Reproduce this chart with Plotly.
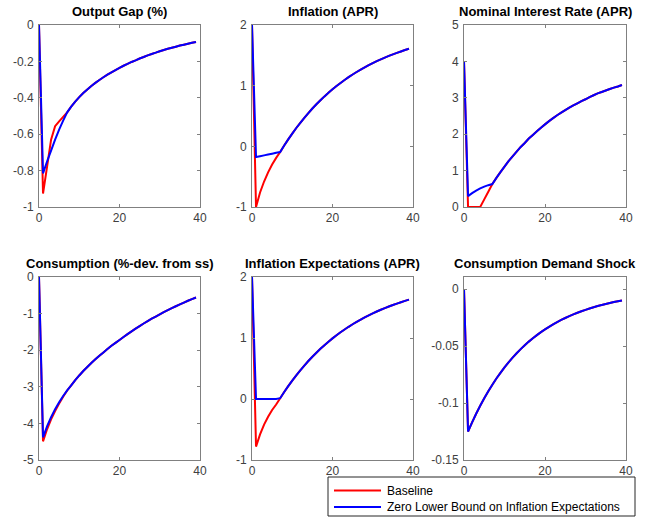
import plotly.graph_objects as go

# ---------------- data (t = 0..39) ----------------
periods = list(range(40))

gap_tail = [-0.449, -0.421, -0.396, -0.374, -0.354, -0.335, -0.318, -0.302, -0.287, -0.273,
            -0.260, -0.248, -0.236, -0.224, -0.214, -0.203, -0.194, -0.184, -0.176, -0.167,
            -0.159, -0.152, -0.144, -0.137, -0.131, -0.125, -0.119, -0.113, -0.108, -0.103,
            -0.098, -0.093]
gap_base = [0, -0.926, -0.78, -0.63, -0.556, -0.53, -0.505, -0.48] + gap_tail
gap_zlb = [0, -0.815, -0.75, -0.69, -0.63, -0.575, -0.525, -0.48] + gap_tail

infl_tail = [0.013, 0.114, 0.210, 0.302, 0.388, 0.470, 0.548, 0.623, 0.693, 0.759,
             0.823, 0.883, 0.940, 0.994, 1.045, 1.094, 1.140, 1.184, 1.225, 1.265,
             1.302, 1.338, 1.372, 1.404, 1.434, 1.463, 1.490, 1.516, 1.541, 1.564,
             1.587, 1.608]
infl_base = [2.0, -1.0, -0.76, -0.58, -0.43, -0.30, -0.19, -0.094] + infl_tail
infl_zlb = [2.0, -0.177, -0.163, -0.149, -0.135, -0.121, -0.107, -0.094] + infl_tail

rate_tail = [0.80, 0.96, 1.11, 1.26, 1.39, 1.52, 1.65, 1.76, 1.88, 1.98,
             2.08, 2.18, 2.27, 2.36, 2.44, 2.52, 2.59, 2.66, 2.73, 2.79,
             2.85, 2.91, 2.96, 3.02, 3.07, 3.12, 3.16, 3.20, 3.24, 3.28,
             3.31, 3.35]
rate_base = [4.0, 0.0, 0.0, 0.0, 0.0, 0.21, 0.42, 0.63] + rate_tail
rate_zlb = [4.0, 0.30, 0.38, 0.45, 0.51, 0.56, 0.60, 0.63] + rate_tail

cons_tail = [-2.96, -2.82, -2.69, -2.57, -2.46, -2.35, -2.25, -2.15, -2.06, -1.97,
             -1.88, -1.80, -1.72, -1.64, -1.56, -1.485, -1.41, -1.34, -1.27, -1.205,
             -1.14, -1.08, -1.02, -0.96, -0.905, -0.85, -0.80, -0.75, -0.70, -0.65,
             -0.605, -0.56]
cons_base = [0, -4.49, -4.16, -3.89, -3.66, -3.46, -3.27, -3.10] + cons_tail
cons_zlb = [0, -4.38, -4.08, -3.83, -3.61, -3.42, -3.25, -3.10] + cons_tail

expi_tail = [0.114, 0.210, 0.302, 0.388, 0.470, 0.548, 0.623, 0.693, 0.759, 0.823,
             0.883, 0.940, 0.994, 1.045, 1.094, 1.140, 1.184, 1.225, 1.265, 1.302,
             1.338, 1.372, 1.404, 1.434, 1.463, 1.490, 1.516, 1.541, 1.564, 1.587,
             1.608, 1.629]
expi_base = [2.0, -0.78, -0.58, -0.42, -0.29, -0.18, -0.09, 0.013] + expi_tail
expi_zlb = [2.0, 0.0, 0.0, 0.0, 0.0, 0.0, 0.0, 0.013] + expi_tail

shock_base = [0, -0.125, -0.1170, -0.1094, -0.1024, -0.0958, -0.0897, -0.0839, -0.0785, -0.0735,
              -0.0687, -0.0643, -0.0602, -0.0563, -0.0527, -0.0493, -0.0461, -0.0432, -0.0404, -0.0378,
              -0.0354, -0.0331, -0.0310, -0.0290, -0.0271, -0.0254, -0.0237, -0.0222, -0.0208, -0.0195,
              -0.0182, -0.0170, -0.0159, -0.0149, -0.0140, -0.0131, -0.0122, -0.0114, -0.0107, -0.0100]
shock_zlb = list(shock_base)

titles = ["Output Gap (%)", "Inflation (APR)", "Nominal Interest Rate (APR)",
          "Consumption (%-dev. from ss)", "Inflation Expectations (APR)", "Consumption Demand Shock"]
series_names = ["Baseline", "Zero Lower Bound on Inflation Expectations"]
series_colors = ["#ff0000", "#0000ff"]

x_tickvals = [0, 20, 40]
x_ticktext = ["0", "20", "40"]

y_ranges = [[-1, 0], [-1, 2], [0, 5], [-5, 0], [-1, 2], [-0.15, 0.0106]]
y_tickvals = [[-1, -0.8, -0.6, -0.4, -0.2, 0], [-1, 0, 1, 2], [0, 1, 2, 3, 4, 5],
              [-5, -4, -3, -2, -1, 0], [-1, 0, 1, 2], [-0.15, -0.1, -0.05, 0]]
y_ticktext = [["-1", "-0.8", "-0.6", "-0.4", "-0.2", "0"], ["-1", "0", "1", "2"],
              ["0", "1", "2", "3", "4", "5"], ["-5", "-4", "-3", "-2", "-1", "0"],
              ["-1", "0", "1", "2"], ["-0.15", "-0.1", "-0.05", "0"]]

baseline_data = [gap_base, infl_base, rate_base, cons_base, expi_base, shock_base]
zlb_data = [gap_zlb, infl_zlb, rate_zlb, cons_zlb, expi_zlb, shock_zlb]

# ---------------- layout geometry (pixels) ----------------
W, H = 649, 519
boxes = [(39, 200, 25, 207), (252, 413, 25, 207), (464, 626, 25, 207),
         (39, 200, 277, 460), (252, 413, 277, 460), (464, 626, 277, 460)]

FONT = "Liberation Sans, Arial, Helvetica, sans-serif"
AX_COLOR = "#808080"
TXT_COLOR = "#262626"

fig = go.Figure()
annotations = []
shapes = []
layout = dict(
    width=W, height=H,
    margin=dict(l=0, r=0, t=0, b=0, autoexpand=False),
    paper_bgcolor="white", plot_bgcolor="white",
    font=dict(family=FONT, size=12, color=TXT_COLOR),
    showlegend=False,
)

for i in range(6):
    n = "" if i == 0 else str(i + 1)
    x0, x1, y0, y1 = boxes[i]
    xd = [x0 / W, x1 / W]
    yd = [1 - y1 / H, 1 - y0 / H]
    axis_common = dict(
        showline=True, linecolor=AX_COLOR, linewidth=1, mirror="ticks",
        ticks="inside", ticklen=3, tickcolor=AX_COLOR, showgrid=False, zeroline=False,
        automargin=False, tickfont=dict(family=FONT, size=12, color="#404040"),
    )
    layout["xaxis" + n] = dict(domain=xd, range=[0, 40], tickvals=x_tickvals, ticktext=x_ticktext,
                               anchor="y" + n, **axis_common)
    layout["yaxis" + n] = dict(domain=yd, range=y_ranges[i], tickvals=y_tickvals[i],
                               ticktext=y_ticktext[i], anchor="x" + n, ticklabelstandoff=2,
                               **axis_common)
    for name, color, data in ((series_names[0], series_colors[0], baseline_data[i]),
                              (series_names[1], series_colors[1], zlb_data[i])):
        fig.add_trace(go.Scatter(x=periods, y=data, mode="lines", name=name,
                                 line=dict(color=color, width=2, simplify=False),
                                 xaxis="x" + n, yaxis="y" + n))
    annotations.append(dict(
        text="<b>" + titles[i] + "</b>", x=(xd[0] + xd[1]) / 2, y=1 - (y0 - 4) / H,
        xref="paper", yref="paper", xanchor="center", yanchor="bottom", showarrow=False,
        font=dict(family=FONT, size=13, color="#000000")))

# ---------------- legend box (MATLAB style, bottom right) ----------------
lg_x0, lg_x1, lg_y0, lg_y1 = 328, 635, 477, 516
shapes.append(dict(type="rect", xref="paper", yref="paper",
                   x0=lg_x0 / W, x1=lg_x1 / W, y0=1 - lg_y1 / H, y1=1 - lg_y0 / H,
                   line=dict(color="#262626", width=1), fillcolor="white", layer="above"))
row_y = [490.5, 507]
for k in range(2):
    shapes.append(dict(type="line", xref="paper", yref="paper",
                       x0=334 / W, x1=381 / W, y0=1 - row_y[k] / H, y1=1 - row_y[k] / H,
                       line=dict(color=series_colors[k], width=2), layer="above"))
    annotations.append(dict(text=series_names[k], x=385 / W, y=1 - row_y[k] / H,
                            xref="paper", yref="paper", xanchor="left", yanchor="middle",
                            showarrow=False, font=dict(family=FONT, size=12, color="#000000")))

layout["annotations"] = annotations
layout["shapes"] = shapes
fig.update_layout(**layout)
fig.write_html("out.html", config={"displayModeBar": False},
               post_script="document.body.style.margin='0px';document.body.style.padding='0px';")
